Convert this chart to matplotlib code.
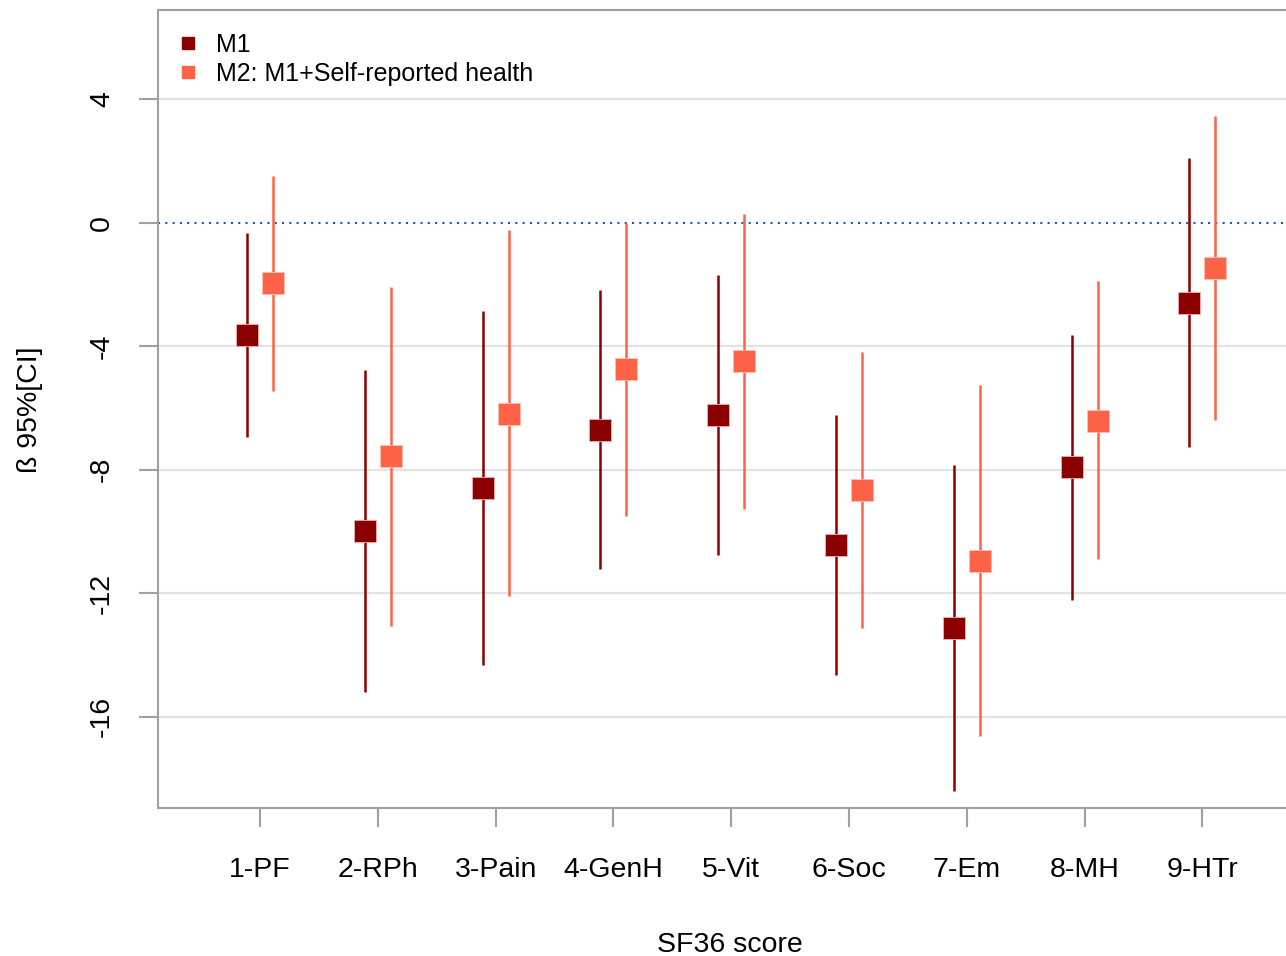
"""Forest-style plot of SF36 score coefficients for two models."""

import matplotlib

matplotlib.use("Agg")
import matplotlib.pyplot as plt
import numpy as np

plt.rcParams["font.family"] = ["Liberation Sans", "DejaVu Sans"]

categories = ["1-PF", "2-RPh", "3-Pain", "4-GenH", "5-Vit", "6-Soc", "7-Em", "8-MH", "9-HTr"]

m1_est = [-3.63, -9.98, -8.59, -6.71, -6.22, -10.44, -13.13, -7.91, -2.59]
m1_low = [-6.94, -15.2, -14.33, -11.22, -10.76, -14.65, -18.41, -12.22, -7.26]
m1_high = [-0.32, -4.76, -2.85, -2.17, -1.69, -6.22, -7.84, -3.63, 2.11]

m2_est = [-1.94, -7.55, -6.19, -4.73, -4.47, -8.65, -10.96, -6.42, -1.46]
m2_low = [-5.45, -13.06, -12.09, -9.5, -9.27, -13.13, -16.63, -10.89, -6.39]
m2_high = [1.52, -2.07, -0.23, 0.0, 0.29, -4.18, -5.25, -1.88, 3.47]

y_ticks = [4, 0, -4, -8, -12, -16]

M1_COLOR = "#8b0000"
M2_COLOR = "#ff6347"
AXIS_GREY = "#a0a0a0"
FS = 20.5
LEGEND_FS = 18


def main() -> None:
    fig = plt.figure(figsize=(12.86, 9.56), dpi=100)
    ax = fig.add_axes([158 / 1286, 1 - 808 / 956, 1 - 158 / 1286, (808 - 10) / 956])

    x = np.arange(1, len(categories) + 1)
    offset = 0.11

    for yt in y_ticks:
        if yt != 0:
            ax.axhline(yt, color="#e3e3e3", lw=1.6, zorder=0)
    ax.axhline(0, color="#1f5a9e", lw=1.5, ls=(0, (1, 2.5)), zorder=1)

    ax.vlines(x - offset, m1_low, m1_high, color=M1_COLOR, lw=1.8, zorder=2)
    ax.vlines(x + offset, m2_low, m2_high, color=M2_COLOR, lw=1.8, zorder=2)
    ax.plot(x - offset, m1_est, "s", color=M1_COLOR, ms=16, mec="#f0b0b0",
            mew=0.6, zorder=3)
    ax.plot(x + offset, m2_est, "s", color=M2_COLOR, ms=16, mec="#ffc0b0",
            mew=0.6, zorder=3)

    ax.plot([], [], "s", color=M1_COLOR, ms=8, label="M1")
    ax.plot([], [], "s", color=M2_COLOR, ms=8, label="M2: M1+Self-reported health")
    ax.legend(loc="upper left", frameon=False, fontsize=LEGEND_FS, handlelength=0.6,
              handletextpad=0.8, borderaxespad=0.5, labelspacing=0.2,
              bbox_to_anchor=(0.0, 1.0))

    ax.set_xlim(0.134, 9.71)
    ax.set_ylim(-18.96, 6.9)
    ax.set_xticks(x)
    ax.set_xticklabels(categories, fontsize=FS)
    ax.set_yticks(y_ticks)
    ax.set_yticklabels([str(v) for v in y_ticks], fontsize=FS, rotation=90,
                       va="center")
    ax.tick_params(axis="x", length=14, width=1.5, color=AXIS_GREY, pad=21)
    ax.tick_params(axis="y", length=14, width=1.5, color=AXIS_GREY, pad=17)

    for side in ["left", "bottom", "top"]:
        ax.spines[side].set_color(AXIS_GREY)
        ax.spines[side].set_linewidth(1.5)
    ax.spines["right"].set_visible(False)

    fig.text(730 / 1286, 1 - 945 / 956, "SF36 score", ha="center", va="center",
             fontsize=FS)
    fig.text(30 / 1286, 1 - 410 / 956, "ß 95%[CI]", ha="center", va="center",
             rotation=90, fontsize=FS)

    fig.savefig("out.png", dpi=100)
    plt.close(fig)


if __name__ == "__main__":
    main()
